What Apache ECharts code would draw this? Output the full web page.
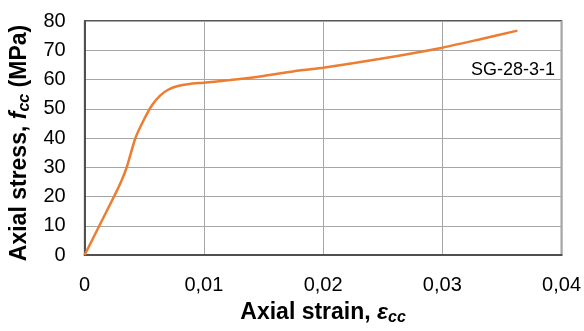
<!DOCTYPE html>
<html>
<head>
<meta charset="utf-8">
<script src="https://cdn.jsdelivr.net/npm/echarts@6/dist/echarts.min.js"></script>
<style>html,body{margin:0;padding:0;background:#fff}#c{width:584px;height:331px}</style>
</head>
<body>
<div id="c"></div>
<script>
const strain = [0, 0.00123, 0.0025, 0.0031, 0.00353, 0.00426, 0.0050, 0.00566, 0.00635, 0.0070, 0.00775, 0.0088, 0.00997, 0.0122, 0.0150, 0.0180, 0.0200, 0.0247, 0.0299, 0.0331, 0.0363];
const stress = [0, 10, 20.3, 25.5, 30, 40, 46.5, 51.3, 54.6, 56.5, 57.7, 58.5, 58.9, 59.8, 61.2, 63.1, 64.0, 67.0, 70.8, 73.7, 76.7];
const seriesLabel = 'SG-28-3-1';
const xTitle = 'Axial strain, ';
const yTitle = 'Axial stress, ';

const chart = echarts.init(document.getElementById('c'));
const font = 'Liberation Sans, Arial, sans-serif';
const richTitle = {
  b: {fontFamily: font, fontSize: 23, fontWeight: 'bold', color: '#000'},
  i: {fontFamily: font, fontSize: 23, fontWeight: 'bold', fontStyle: 'italic', color: '#000'},
  s: {fontFamily: font, fontSize: 16, fontWeight: 'bold', fontStyle: 'italic', color: '#000', padding: [10, 0, 0, 0]}
};
chart.setOption({
  animation: false,
  grid: {left: 84, right: 21, top: 21, bottom: 72, show: true, borderColor: '#222', borderWidth: 1.5, backgroundColor: 'transparent'},
  xAxis: {
    type: 'value', min: 0, max: 0.04, interval: 0.01,
    axisLine: {show: true, lineStyle: {color: '#505050', width: 2}},
    axisTick: {show: false},
    splitLine: {show: true, lineStyle: {color: '#a6a6a6', width: 1}},
    axisLabel: {color: '#000', fontFamily: font, fontSize: 20, margin: 20,
      formatter: v => v === 0 ? '0' : v.toFixed(2).replace('.', ',')},
    name: '{b|' + xTitle + '}{i|ε}{s|cc}',
    nameLocation: 'middle', nameGap: 45,
    nameTextStyle: {rich: richTitle}
  },
  yAxis: {
    type: 'value', min: 0, max: 80, interval: 10,
    axisLine: {show: true, lineStyle: {color: '#505050', width: 2}},
    axisTick: {show: false},
    splitLine: {show: true, lineStyle: {color: '#a6a6a6', width: 1}},
    axisLabel: {color: '#000', fontFamily: font, fontSize: 20, margin: 19},
    name: '{b|' + yTitle + '}{i|f}{s|cc}{b| (MPa)}',
    nameLocation: 'middle', nameRotate: 90, nameGap: 37, nameTextStyle: {rich: richTitle, padding: [0, 10, 0, 0]}
  },
  series: [{
    type: 'line', name: seriesLabel,
    data: strain.map((x, i) => [x, stress[i]]),
    showSymbol: false, smooth: 0.2,
    lineStyle: {color: '#ED7D31', width: 2.5},
    itemStyle: {color: '#ED7D31'}
  }],
  graphic: [{
    type: 'text', right: 29, top: 61,
    style: {text: seriesLabel, fontFamily: font, fontSize: 18, fill: '#000'}
  }]
});
</script>
</body>
</html>
